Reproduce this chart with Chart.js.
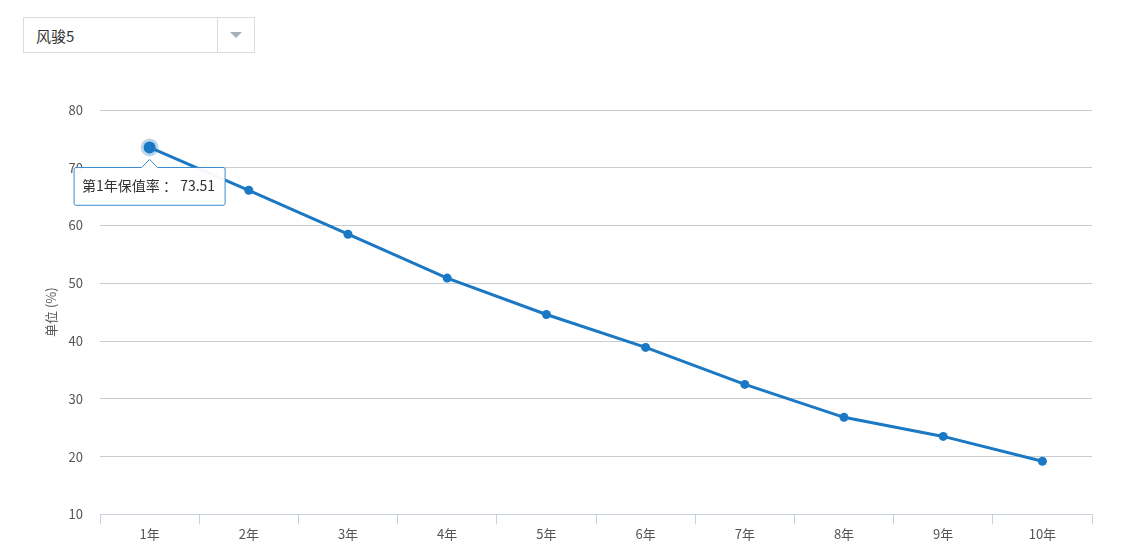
<!DOCTYPE html>
<html>
<head>
<meta charset="utf-8">
<script src="https://cdn.jsdelivr.net/npm/chart.js@4.4.1/dist/chart.umd.min.js"></script>
<style>
  body { margin: 0; background: #fff; font-family: "Noto Sans CJK SC", sans-serif; }
  #wrap { position: relative; width: 1124px; height: 560px; }
  #chart-baozhi { position: absolute; left: 0; top: 0; }
  .caixa { position: absolute; left: 23px; top: 17px; width: 230px; height: 34px; border: 1px solid #dcdcdc; background: #fff; }
  .caixa span { position: absolute; left: 12px; top: 7px; font-size: 15px; color: #333; }
  .caixa .seta { position: absolute; left: 193px; top: 0; width: 37px; height: 34px; border-left: 1px solid #dcdcdc; }
  .caixa .seta:after { content: ""; position: absolute; left: 12px; top: 14px; border-left: 6px solid transparent; border-right: 6px solid transparent; border-top: 6px solid #a9b0b8; }
</style>
</head>
<body>
<div id="wrap">
  <canvas id="chart-baozhi" width="1124" height="560"></canvas>
  <div class="caixa"><span>风骏5</span><div class="seta"></div></div>
</div>
<script>
var anos = ["1年", "2年", "3年", "4年", "5年", "6年", "7年", "8年", "9年", "10年"]
var valores = [73.51, 66.1, 58.5, 50.9, 44.6, 38.9, 32.5, 26.8, 23.5, 19.2]
var ticksY = [10, 20, 30, 40, 50, 60, 70, 80]

const ctb = document.getElementById("chart-baozhi");

const grafico = new Chart(ctb, {
  type: "line",
  data: {
    labels: anos,
    datasets: [
      {
        label: "保值率",
        data: valores,
        borderColor: "#1a78c4",
        backgroundColor: "#1a78c4",
        borderWidth: 3,
        pointRadius: 4.5,
        pointBackgroundColor: "#1a78c4",
        pointBorderWidth: 0,
        pointHoverRadius: 6,
        pointHoverBackgroundColor: "#1a78c4",
        pointHoverBorderColor: "rgba(26,120,196,0.3)",
        pointHoverBorderWidth: 6,
        tension: 0,
        fill: false
      }
    ]
  },
  options: {
    responsive: false,
    animation: false,
    events: [],
    layout: {
      padding: { left: 43, right: 32, top: 110, bottom: 16 }
    },
    plugins: {
      legend: { display: false },
      tooltip: {
        xAlign: "center",
        yAlign: "top",
        backgroundColor: "rgba(255,255,255,0.95)",
        borderColor: "#3a8bd0",
        borderWidth: 1,
        bodyColor: "#333",
        bodyFont: { family: "Noto Sans CJK SC", size: 14 },
        padding: { left: 8, right: 10, top: 10, bottom: 11 },
        cornerRadius: 2,
        caretSize: 8,
        caretPadding: 12,
        displayColors: false,
        callbacks: {
          title: function () { return "" },
          label: function (c) { return "第" + (c.dataIndex + 1) + "年保值率 ： " + c.parsed.y.toFixed(2) }
        }
      }
    },
    scales: {
      y: {
        min: 10,
        max: 80,
        afterFit: function (s) { s.width = 57 },
        afterBuildTicks: function (s) { s.ticks = ticksY.map(function (v) { return { value: v } }) },
        border: { display: false },
        grid: { color: "#c9cdd2", drawTicks: false, lineWidth: 1 },
        ticks: {
          color: "#555",
          padding: 17,
          font: { family: "Noto Sans CJK SC", size: 13 }
        },
        title: {
          display: true,
          text: "单位 (%)",
          color: "#555",
          padding: 0,
          font: { family: "Noto Sans CJK SC", size: 13 }
        }
      },
      x: {
        offset: true,
        border: { display: true, color: "#c8d2dc", width: 1 },
        grid: { offset: true, drawOnChartArea: false, drawTicks: true, tickLength: 10, color: "#c8d2dc" },
        ticks: {
          color: "#555",
          padding: 2,
          font: { family: "Noto Sans CJK SC", size: 13 }
        }
      }
    }
  }
});

grafico.setActiveElements([{ datasetIndex: 0, index: 0 }]);
grafico.tooltip.setActiveElements([{ datasetIndex: 0, index: 0 }], { x: 0, y: 0 });
grafico.update();
</script>
</body>
</html>
